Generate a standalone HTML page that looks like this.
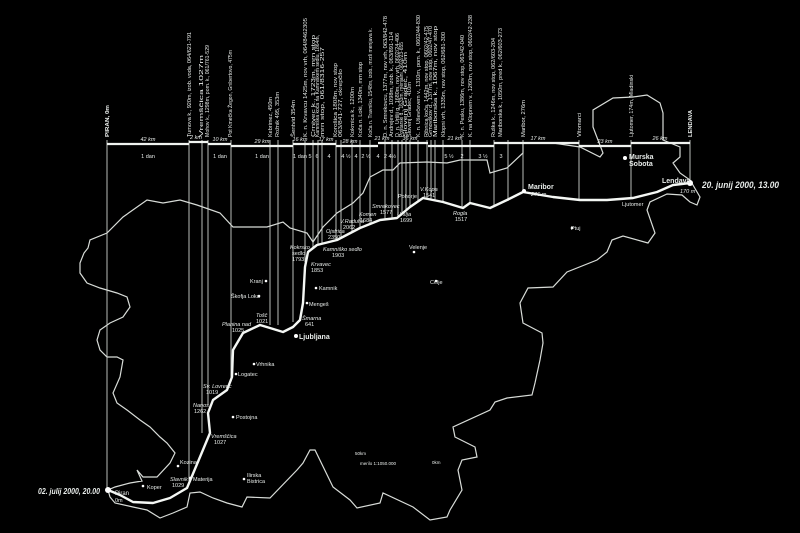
<!DOCTYPE html>
<html><head><meta charset="utf-8"><style>
html,body{margin:0;padding:0;background:#000;width:800px;height:533px;overflow:hidden}
svg{display:block}
text{font-family:"Liberation Sans",sans-serif;fill:#e8ecea}
.s{font-size:5.5px}
.m{font-size:6px}
</style></head><body>
<svg width="800" height="533" viewBox="0 0 800 533" xmlns="http://www.w3.org/2000/svg">
<rect width="800" height="533" fill="#000"/>
<polyline fill="none" stroke="#d8dcd8" stroke-width="1.2" points="
108,490 115,487 130,483 142,481 137,470 143,477 157,477 170,463 175,453 167,443 160,437 150,427 140,420 127,410 117,403 113,393 120,377 123,360 117,357 107,357 100,350 97,340 100,330 110,323 123,317 130,307 127,297 117,293 100,288 87,283 80,273 80,263 84,253 88,248
90,240 107,233 123,217 147,200 163,203 180,200 197,205 220,213 233,227 267,227 283,222 290,228 307,233 313,242 323,227 337,213 353,203 363,193 370,177 383,170 393,170 400,163 427,162 447,163 460,160 487,160 490,173 507,168 523,153 523,143 537,143 553,143 580,147 600,157 603,153 593,127 593,110 613,98 633,97 647,95 660,103 663,113 663,140 680,147 680,157 673,163 680,173 690,180 700,197 697,205 690,202 682,195 667,194 650,202 647,210 655,233 648,243 623,236 612,240 607,252 597,260 567,272 553,287 528,288 520,303 523,323 542,333 543,343 540,360 535,383 532,395 507,398 495,402 490,410 453,427 455,437 475,447 477,457 462,460 458,470 462,490 450,510 447,517 430,520 413,507 383,493 380,503 357,508 350,500 333,487 315,450 310,450 303,463 297,470 270,498 247,497 242,507 227,503 213,498 200,492 190,493 187,507 173,513 160,518 147,510 133,507 115,503 110,497 108,490"/>
<g stroke="#cfd3cf" stroke-width="0.9">
<line x1="107" y1="140" x2="107" y2="490"/>
<line x1="189" y1="140" x2="189" y2="482"/>
<line x1="202" y1="140" x2="202" y2="433"/>
<line x1="208" y1="140" x2="208" y2="405"/>
<line x1="231" y1="140" x2="231" y2="382"/>
<line x1="270" y1="140" x2="270" y2="325"/>
<line x1="278" y1="140" x2="278" y2="325"/>
<line x1="293" y1="140" x2="293" y2="322"/>
<line x1="305" y1="140" x2="305" y2="262"/>
<line x1="313" y1="140" x2="313" y2="247"/>
<line x1="318" y1="140" x2="318" y2="244"/>
<line x1="322" y1="140" x2="322" y2="243"/>
<line x1="336" y1="140" x2="336" y2="240"/>
<line x1="341" y1="140" x2="341" y2="238"/>
<line x1="352" y1="140" x2="352" y2="232"/>
<line x1="360" y1="140" x2="360" y2="228"/>
<line x1="370" y1="140" x2="370" y2="224"/>
<line x1="385" y1="140" x2="385" y2="220"/>
<line x1="392" y1="140" x2="392" y2="219"/>
<line x1="398" y1="140" x2="398" y2="218"/>
<line x1="402" y1="140" x2="402" y2="214"/>
<line x1="406" y1="140" x2="406" y2="211"/>
<line x1="410" y1="140" x2="410" y2="207"/>
<line x1="418" y1="140" x2="418" y2="201"/>
<line x1="427" y1="140" x2="427" y2="199"/>
<line x1="431" y1="140" x2="431" y2="200"/>
<line x1="435" y1="140" x2="435" y2="201"/>
<line x1="443" y1="140" x2="443" y2="202"/>
<line x1="462" y1="140" x2="462" y2="208"/>
<line x1="470" y1="140" x2="470" y2="204"/>
<line x1="494" y1="140" x2="494" y2="207"/>
<line x1="508" y1="140" x2="508" y2="201"/>
<line x1="523" y1="140" x2="523" y2="192"/>
<line x1="579" y1="140" x2="579" y2="200"/>
<line x1="631" y1="140" x2="631" y2="198"/>
<line x1="690" y1="140" x2="690" y2="183"/>
</g>
<g stroke="#f0f3f0" stroke-width="2.2">
<line x1="107" y1="144" x2="189" y2="144"/>
<line x1="189" y1="142" x2="208" y2="142"/>
<line x1="208" y1="144" x2="231" y2="144"/>
<line x1="231" y1="146" x2="293" y2="146"/>
<line x1="293" y1="144" x2="336" y2="144"/>
<line x1="336" y1="146" x2="378" y2="146"/>
<line x1="378" y1="143" x2="428" y2="143"/>
<line x1="428" y1="146" x2="494" y2="146"/>
<line x1="494" y1="143" x2="579" y2="143"/>
<line x1="579" y1="146" x2="631" y2="146"/>
<line x1="631" y1="143" x2="690" y2="143"/>
</g>
<polyline fill="none" stroke="#f4f7f4" stroke-width="2.4" stroke-linejoin="round" points="108,490 120,495 133,502 153,503 170,498 187,488 200,457 210,433 208,413 213,400 227,390 232,377 233,350 243,333 260,325 270,328 283,332 293,327 300,320 303,303 305,267 308,252 317,245 337,240 360,228 380,220 397,218 410,207 423,198 443,202 463,208 470,203 490,208 507,200 523,192 553,197 580,200 607,200 633,198 657,192 673,185 690,183"/>
<g class="s">
<text transform="translate(109,137) rotate(-90)" textLength="32" lengthAdjust="spacingAndGlyphs" font-weight="bold">PIRAN, 0m</text>
<text transform="translate(191,137) rotate(-90)" textLength="105" lengthAdjust="spacingAndGlyphs">Tumova k., 920m, izob. voda, 064/621-791</text>
<text transform="translate(203,137) rotate(-90)" textLength="82" lengthAdjust="spacingAndGlyphs">Vremščica 1027m</text>
<text transform="translate(209,137) rotate(-90)" textLength="92" lengthAdjust="spacingAndGlyphs">Mohov k., 1298m, pom. k., 061/761-529</text>
<text transform="translate(232,137) rotate(-90)" textLength="87" lengthAdjust="spacingAndGlyphs">Pot Kmečka Žegon, Gnibertovo, 475m</text>
<text transform="translate(272,137) rotate(-90)" textLength="40" lengthAdjust="spacingAndGlyphs">Kebrimez, 450m</text>
<text transform="translate(279,137) rotate(-90)" textLength="45" lengthAdjust="spacingAndGlyphs">Rožnik 495, 353m</text>
<text transform="translate(295,137) rotate(-90)" textLength="37" lengthAdjust="spacingAndGlyphs">Šentvid 354m</text>
<text transform="translate(307,137) rotate(-90)" textLength="119" lengthAdjust="spacingAndGlyphs">K. n. Krvavcu 1425m, nov vrh, 064/8462305</text>
<text transform="translate(315,137) rotate(-90)" textLength="102" lengthAdjust="spacingAndGlyphs">Crnivec k., 1723m, mrn stop</text>
<text transform="translate(319,137) rotate(-90)" textLength="102" lengthAdjust="spacingAndGlyphs">Kamniška koča na Kamniškem sedlu, 1864m,</text>
<text transform="translate(324,137) rotate(-90)" textLength="90" lengthAdjust="spacingAndGlyphs">mrn stop, 061/8316-257</text>
<text transform="translate(337,137) rotate(-90)" textLength="74" lengthAdjust="spacingAndGlyphs">Korošica 1808m, nov stop</text>
<text transform="translate(342,137) rotate(-90)" textLength="68" lengthAdjust="spacingAndGlyphs">063/841-727, okrepčilo</text>
<text transform="translate(354,137) rotate(-90)" textLength="50" lengthAdjust="spacingAndGlyphs">Kokrnica k., 1200m</text>
<text transform="translate(362,137) rotate(-90)" textLength="75" lengthAdjust="spacingAndGlyphs">Koča n. Loki, 1340m, mrn stop</text>
<text transform="translate(372,137) rotate(-90)" textLength="109" lengthAdjust="spacingAndGlyphs">Koča n. Travniku, 1548m, izob., mrzli menjava k.</text>
<text transform="translate(387,137) rotate(-90)" textLength="121" lengthAdjust="spacingAndGlyphs">D. n. Smrekovcu, 1377m, nov vrh, 063/842-478</text>
<text transform="translate(393,137) rotate(-90)" textLength="105" lengthAdjust="spacingAndGlyphs">Andrejev d., 1098m, izob. k., 063/891-114</text>
<text transform="translate(399,137) rotate(-90)" textLength="104" lengthAdjust="spacingAndGlyphs">D. n. Uršlji g., 1680m, nov vrh, 0602/24-406</text>
<text transform="translate(403,137) rotate(-90)" textLength="95" lengthAdjust="spacingAndGlyphs">Poštarski d., 1633m, menjalni, 0602/23-655</text>
<text transform="translate(407,137) rotate(-90)" textLength="85" lengthAdjust="spacingAndGlyphs">Slovenj Gradec, 410m</text>
<text transform="translate(411,137) rotate(-90)" textLength="55" lengthAdjust="spacingAndGlyphs">Slovenj Gradec, 410m</text>
<text transform="translate(420,137) rotate(-90)" textLength="122" lengthAdjust="spacingAndGlyphs">K. n. Uševčevem v., 1310m, pom. k., 0602/44-830</text>
<text transform="translate(428,137) rotate(-90)" textLength="111" lengthAdjust="spacingAndGlyphs">Ribnica koča, 1442m, nov stop, 0602/42-475</text>
<text transform="translate(432,137) rotate(-90)" textLength="111" lengthAdjust="spacingAndGlyphs">Grmovškov d., 1377m, nov stop, 0602/47-470</text>
<text transform="translate(437,137) rotate(-90)" textLength="111" lengthAdjust="spacingAndGlyphs">Mariborska k., 1067m, nov stop</text>
<text transform="translate(445,137) rotate(-90)" textLength="105" lengthAdjust="spacingAndGlyphs">Klopni vrh, 1335m, nov stop, 062/681-300</text>
<text transform="translate(464,137) rotate(-90)" textLength="102" lengthAdjust="spacingAndGlyphs">K. n. Pesku, 1386m, nov stop, 063/42-040</text>
<text transform="translate(472,137) rotate(-90)" textLength="122" lengthAdjust="spacingAndGlyphs">K. na Klopnem v., 1260m, nov stop, 0602/42-238</text>
<text transform="translate(495,137) rotate(-90)" textLength="99" lengthAdjust="spacingAndGlyphs">Ruška k., 1246m, nov stop, 062/603-204</text>
<text transform="translate(502,137) rotate(-90)" textLength="109" lengthAdjust="spacingAndGlyphs">Mariborska k., 1050m, pred k., 062/603-273</text>
<text transform="translate(525,137) rotate(-90)" textLength="37" lengthAdjust="spacingAndGlyphs">Maribor, 276m</text>
<text transform="translate(581,137) rotate(-90)" textLength="24" lengthAdjust="spacingAndGlyphs">Vitomarci</text>
<text transform="translate(633,137) rotate(-90)" textLength="62" lengthAdjust="spacingAndGlyphs">Ljutomer, 174m, Mladinski</text>
<text transform="translate(692,137) rotate(-90)" textLength="27" lengthAdjust="spacingAndGlyphs" font-weight="bold">LENDAVA</text>
</g>
<g class="s" font-style="italic" text-anchor="middle">
<text x="148" y="141">42 km</text><text x="196" y="139">2 km</text><text x="220" y="141">10 km</text><text x="262" y="143">29 km</text>
<text x="300" y="141">16 km</text><text x="326" y="141">17 km</text><text x="350" y="143">28 km</text><text x="382" y="140">21 km</text>
<text x="410" y="140">36 km</text><text x="455" y="140">21 km</text><text x="538" y="140">17 km</text><text x="605" y="143">23 km</text><text x="660" y="140">26 km</text>
</g>
<g class="s" text-anchor="middle">
<text x="148" y="158">1 dan</text><text x="220" y="158">1 dan</text><text x="262" y="158">1 dan</text><text x="300" y="158">1 dan</text>
<text x="310" y="158">5</text><text x="317" y="158">6</text><text x="329" y="158">4</text><text x="346" y="158">4 ½</text><text x="356" y="158">4</text>
<text x="366" y="158">2 ½</text><text x="378" y="158">4</text><text x="390" y="158">2 4½</text><text x="449" y="158">5 ½</text><text x="462" y="158">2</text><text x="483" y="158">3 ½</text><text x="501" y="158">3</text>
</g>
<g fill="#fff">
<circle cx="108" cy="490" r="3"/><circle cx="690" cy="183" r="3"/>
<circle cx="524" cy="191" r="2"/><circle cx="625" cy="158" r="2"/>
<circle cx="296" cy="336" r="2"/><circle cx="266" cy="281" r="1.3"/><circle cx="259" cy="296" r="1.3"/>
<circle cx="316" cy="288" r="1.3"/><circle cx="307" cy="303" r="1.3"/><circle cx="436" cy="281" r="1.3"/>
<circle cx="414" cy="252" r="1.3"/><circle cx="572" cy="228" r="1.3"/><circle cx="254" cy="364" r="1.3"/>
<circle cx="236" cy="374" r="1.3"/><circle cx="233" cy="417" r="1.3"/><circle cx="178" cy="466" r="1.3"/>
<circle cx="143" cy="486" r="1.3"/><circle cx="190" cy="478" r="1.3"/><circle cx="244" cy="479" r="1.3"/>
</g>
<g class="m" fill="#fff">
<text x="115" y="495">Piran</text><text x="115" y="502" class="s">0m</text>
<text x="147" y="489" class="s">Koper</text><text x="180" y="464" class="s">Kozina</text>
<text x="170" y="481" class="s" font-style="italic">Slavnik</text><text x="172" y="487" class="s">1029</text>
<text x="193" y="481" class="s">Materija</text><text x="247" y="477" class="s">Ilirska</text><text x="247" y="483" class="s">Bistrica</text>
<text x="211" y="438" class="s" font-style="italic">Vremščica</text><text x="214" y="444" class="s">1027</text>
<text x="236" y="419" class="s">Postojna</text><text x="193" y="407" class="s" font-style="italic">Nanos</text><text x="194" y="413" class="s">1262</text>
<text x="203" y="388" class="s" font-style="italic">Sv. Lovrenc</text><text x="206" y="394" class="s">1019</text>
<text x="238" y="376" class="s">Logatec</text><text x="256" y="366" class="s">Vrhnika</text>
<text x="222" y="326" class="s" font-style="italic">Planina nad</text><text x="232" y="332" class="s">1025</text>
<text x="256" y="317" class="s" font-style="italic">Tošč</text><text x="256" y="323" class="s">1021</text>
<text x="231" y="298" class="s">Škofja Loka</text><text x="250" y="283" class="s">Kranj</text>
<text x="302" y="320" class="s" font-style="italic">Šmarna</text><text x="305" y="326" class="s">641</text>
<text x="299" y="339" font-size="7" font-weight="bold">Ljubljana</text>
<text x="309" y="306" class="s">Mengeš</text><text x="319" y="290" class="s">Kamnik</text>
<text x="311" y="266" class="s" font-style="italic">Krvavec</text><text x="311" y="272" class="s">1853</text>
<text x="290" y="249" class="s" font-style="italic">Kokrsko</text><text x="292" y="255" class="s">sedlo</text><text x="292" y="261" class="s">1793</text>
<text x="323" y="251" class="s" font-style="italic">Kamniško sedlo</text><text x="332" y="257" class="s">1903</text>
<text x="326" y="233" class="s" font-style="italic">Ojstrica</text><text x="328" y="239" class="s">2350</text>
<text x="340" y="223" class="s" font-style="italic">V.Raduha</text><text x="343" y="229" class="s">2062</text>
<text x="359" y="216" class="s" font-style="italic">Komen</text><text x="360" y="222" class="s">1684</text>
<text x="372" y="208" class="s" font-style="italic">Smrekovec</text><text x="380" y="214" class="s">1577</text>
<text x="397" y="216" class="s" font-style="italic">Uršlja</text><text x="400" y="222" class="s">1699</text>
<text x="398" y="198" class="s">Pohorje</text><text x="420" y="191" class="s" font-style="italic">V.Kopa</text><text x="423" y="197" class="s">1541</text>
<text x="453" y="215" class="s" font-style="italic">Rogla</text><text x="455" y="221" class="s">1517</text>
<text x="409" y="249" class="s">Velenje</text><text x="430" y="284" class="s">Celje</text><text x="571" y="230" class="s">Ptuj</text>
<text x="528" y="189" font-size="7" font-weight="bold">Maribor</text><text x="531" y="196" class="s" font-style="italic">276 m</text>
<text x="629" y="159" font-size="7" font-weight="bold">Murska</text><text x="629" y="166" font-size="7" font-weight="bold">Sobota</text>
<text x="662" y="183" font-size="7" font-weight="bold">Lendava</text><text x="680" y="193" class="s" font-style="italic">170 m</text>
<text x="622" y="206" class="s">Ljutomer</text>
<text x="355" y="455" font-size="4.5">50km</text><text x="360" y="465" font-size="4.5">merilo 1:1050.000</text><text x="432" y="464" font-size="4.5">0km</text>
</g>
<text x="38" y="494" textLength="62" lengthAdjust="spacingAndGlyphs" font-family="Liberation Serif,serif" font-size="8.5" font-style="italic" font-weight="bold" fill="#fff">02. julij 2000, 20.00</text>
<text x="702" y="188" textLength="77" lengthAdjust="spacingAndGlyphs" font-family="Liberation Serif,serif" font-size="9" font-style="italic" font-weight="bold" fill="#fff">20. junij 2000, 13.00</text>
</svg>
</body></html>
